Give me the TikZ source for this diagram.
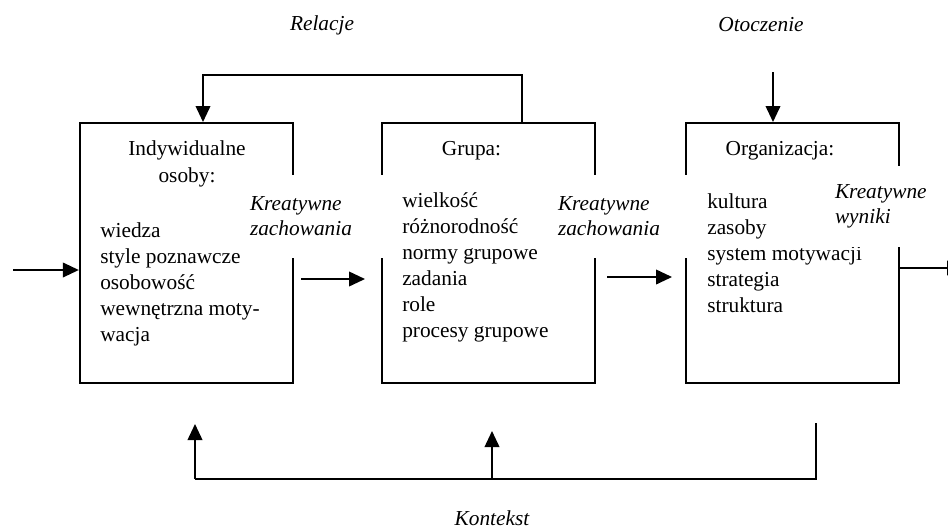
\documentclass[tikz,border=0pt]{standalone}
\usepackage{fontspec}
\setmainfont{Liberation Serif}
\usetikzlibrary{arrows.meta}

\tikzstyle{stage-box}=[draw, line width=1.5pt, minimum width=160pt, minimum height=195pt, inner sep=0pt]
\tikzstyle{stage-title}=[align=center, font={\fontsize{16}{20.25}\selectfont}, inner sep=0pt]
\tikzstyle{stage-list}=[align=left, anchor=north west, font={\fontsize{16}{19.5}\selectfont}, inner sep=0pt]
\tikzstyle{flow-label}=[fill=white, align=left, font={\fontsize{16}{18.75}\selectfont\itshape}, inner xsep=5.25pt, inner ysep=0pt]
\tikzstyle{side-label}=[font={\fontsize{16}{19}\selectfont\itshape}]
\tikzstyle{flow-line}=[line width=1.3pt]
\tikzstyle{flow}=[flow-line, -{Triangle[length=12pt, width=11pt]}]

\begin{document}
\begin{tikzpicture}[x=0.75pt, y=-0.75pt]
  \useasboundingbox (0,0) rectangle (948,529);

  \node (box1) at (186.5,253) [stage-box] {};
  \node (box2) at (488.5,253) [stage-box] {};
  \node (box3) at (792.5,253) [stage-box] {};

  \node (title1) at (187,140.5) [stage-title, anchor=north] {Indywidualne\\osoby:};
  \node (title2) at (471.5,155) [stage-title, anchor=base] {Grupa:};
  \node (title3) at (780,155) [stage-title, anchor=base] {Organizacja:};

  \node (list1) at (100,222) [stage-list] {wiedza\\style poznawcze\\osobowość\\wewnętrzna moty-\\wacja};
  \node (list2) at (402,192) [stage-list] {wielkość\\różnorodność\\normy grupowe\\zadania\\role\\procesy grupowe};
  \node (list3) at (707,193.5) [stage-list] {kultura\\zasoby\\system motywacji\\strategia\\struktura};

  \node (out1) at (316.5,216.5) [flow-label, minimum height=62.25pt, text width=99.75pt] {Kreatywne\\zachowania};
  \node (out2) at (623,216.5) [flow-label, minimum height=62.25pt, text width=97.5pt] {Kreatywne\\zachowania};
  \node (out3) at (886.5,206.5) [flow-label, minimum height=60.75pt, text width=77.25pt] {Kreatywne\\wyniki};

  \node (rel) at (322,25) [side-label] {Relacje};
  \node (oto) at (761,25) [side-label] {Otoczenie};
  \node (ktx) at (492,518) [side-label] {Kontekst};

  \coordinate (instart) at (13,270);
  \coordinate (goA) at (301,279);
  \coordinate (goAend) at (365,279);
  \coordinate (goB) at (607,277);
  \coordinate (goBend) at (672,277);
  \coordinate (outend) at (963,268);
  \coordinate (relR) at (522,75);
  \coordinate (relL) at (203,75);
  \coordinate (otoTop) at (773,72);
  \coordinate (ktxL) at (195,479);
  \coordinate (ktxM) at (492,479);
  \coordinate (ktxR) at (816,479);
  \coordinate (ktxLtip) at (195,424);
  \coordinate (ktxMtip) at (492,431);
  \coordinate (ktxRtop) at (816,423);

  \draw[flow] (instart) -- (instart -| box1.west);
  \draw[flow] (goA) -- (goAend);
  \draw[flow] (goB) -- (goBend);
  \draw[flow] (box3.east |- outend) -- (outend);
  \draw[flow] (relR |- box2.north) -- (relR) -- (relL) -- (relL |- box1.north);
  \draw[flow] (otoTop) -- (otoTop |- box3.north);
  \draw[flow-line] (ktxRtop) -- (ktxR) -- (ktxL);
  \draw[flow] (ktxL) -- (ktxLtip);
  \draw[flow] (ktxM) -- (ktxMtip);
\end{tikzpicture}
\end{document}
